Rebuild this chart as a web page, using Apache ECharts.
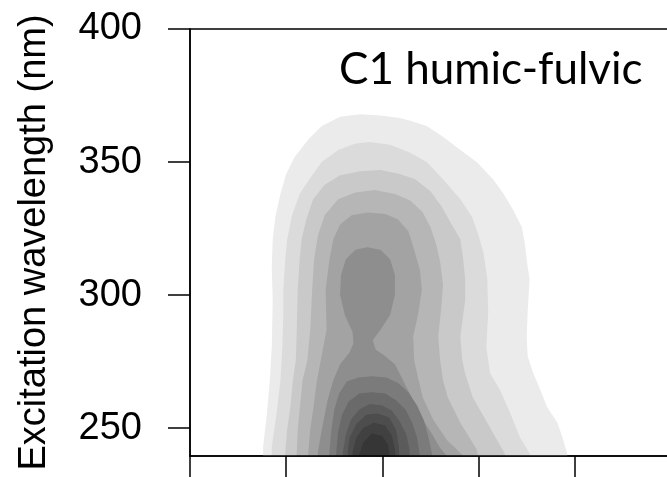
<!DOCTYPE html>
<html>
<head>
<meta charset="utf-8">
<script src="https://cdn.jsdelivr.net/npm/echarts@6/dist/echarts.min.js"></script>
<style>
html,body{margin:0;padding:0;background:#fff;}
#chart{width:667px;height:477px;}
</style>
</head>
<body>
<div id="chart"></div>
<script>
// Axis ranges (nm)
const emissionRange = [350, 600];
const excitationRange = [239.5, 400];
const excitationTicks = [250, 300, 350, 400];
const yTitle = 'Excitation wavelength (nm)';
const componentLabel = 'C1 humic-fulvic';

// Contour level fill colours, lightest (lowest intensity) to darkest
const levelColors = ['#ebebeb','#dbdbdb','#c9c9c9','#b6b6b6','#a3a3a3','#8e8e8e',
                     '#7b7b7b','#6a6a6a','#5b5b5b','#4d4d4d','#414141','#363636'];

// Contour boundaries: [emission nm, excitation nm]
const level1 = [[388,234],[388,243],[390,255.5],[391.5,268],[392.5,280.5],[393,298],[392.5,310.5],[393,321],[394.5,330],[397,338],[400,345.5],[404.5,352],[411.5,358.5],[418.5,363.5],[428,367],[438.5,368],[449,367.5],[459,366.5],[464.5,365.5],[473,363.5],[481.5,359.5],[490.5,354.5],[499,350],[507.5,343.5],[512.5,338.5],[518,332],[522.5,325.5],[524,319.5],[525.5,310.5],[526.5,306],[525.5,293.5],[525,284.5],[525.5,277],[528.5,270.5],[532,264.5],[535.5,258],[541,252],[544,245.5],[546,240.5],[546.5,234]];
const level2 = [[392.5,234],[392.5,243],[395,255.5],[397,268],[398,280.5],[398.5,293.5],[398.5,302],[399.5,313.5],[400.5,321],[403,330],[407,338],[412.5,344],[418.5,350],[427,354.5],[436,357],[443.5,357.5],[454,356.5],[464.5,353.5],[473,350],[481.5,343.5],[490.5,336],[496.5,329.5],[499.5,323.5],[502.5,316],[504.5,306],[505,293.5],[504,280.5],[506,270.5],[511,264.5],[516.5,255.5],[521.5,246.5],[526.5,240.5],[528,234]];
const level3 = [[399,234],[399.5,241],[400.5,249.5],[402,257],[403.5,268],[405,275.5],[405.5,287],[406,302],[407,313.5],[408,321],[410.5,328.5],[414,336],[420,341.5],[428,345],[438.5,346.5],[449,347],[459,345.5],[467,343.5],[475,339],[481,333],[486,326.5],[490.5,321],[492,313.5],[493,306],[493,298],[490.5,284.5],[491.5,275.5],[493,270.5],[497,261.5],[504.5,252],[513.5,240.5],[515.5,234]];
const level4 = [[405,234],[405.5,241],[406,249.5],[407,257],[408.5,268],[411,275.5],[412.5,287],[413.5,302],[414.5,313.5],[416.5,322.5],[420,330],[427,336],[436,338.5],[446,339.5],[456.5,338],[464.5,335.5],[471,331],[475,325.5],[478,319],[480,312.5],[481.5,304],[480.5,294.5],[479,284.5],[480,275.5],[481.5,268],[484,261.5],[490.5,252],[499,242],[501.5,234]];
const level5 = [[411,234],[411.5,241],[412.5,249.5],[414,257],[416,268],[418.5,277.5],[421,287],[420.5,302],[422.5,313.5],[424.5,321],[428,326.5],[434,330],[442.5,331],[451.5,330.5],[458,328.5],[463.5,324],[466.5,317],[469.5,309.5],[470.5,302],[468.5,292.5],[466,284.5],[466.5,275.5],[468.5,269],[471,261.5],[476.5,253],[483.5,245.5],[491.5,240],[493,234]];
const level6 = [[416.5,234],[416.5,241],[418.5,249.5],[421.5,260.5],[424.5,268],[428,274],[433,278.5],[435,282],[434.5,286],[430.5,292.5],[428,300],[428.5,307.5],[431,313.5],[436,317],[442,318],[449,317],[454,313.5],[456.5,307.5],[456.5,300],[454,292.5],[449,287],[445,283],[446.5,279.5],[451.5,277],[456.5,274],[460,269],[464.5,262.5],[469.5,255],[476,247.5],[480,242.5],[483.5,239.5],[485,234]];
const level7 = [[421.5,234],[422.5,241],[423.5,249.5],[425,257],[427.5,263],[431.5,267.5],[437.5,269],[444.5,269.5],[452,269],[458,267],[463.5,263.5],[468,258.5],[471.5,253],[474,246.5],[476,239.5],[476.5,234]];
const level8 = [[425.5,234],[426,241],[427,248.5],[429,255],[432.5,260],[438,263],[444.5,263.5],[451.5,263],[457,260.5],[462,257],[465.5,252],[468,246.5],[469.5,239.5],[470,234]];
const level9 = [[429,234],[429.5,241],[431,247.5],[433.5,253],[438,257],[443.5,259],[450,258.5],[455,256.5],[459,252.5],[462.5,247.5],[464,242],[464.5,234]];
const level10 = [[432,234],[432,241],[433,246.5],[436.5,251.5],[441.5,255],[447.5,255.5],[453.5,254],[457,249.5],[458.5,243.5],[459,234]];
const level11 = [[434.5,234],[434.5,241],[436.5,246.5],[440,250],[445.5,252],[451.5,251],[455,247],[456.5,242],[457,234]];
const level12 = [[437.5,234],[438,240],[440,244.5],[444.5,248],[450,247],[453,243.5],[454.5,234]];

const contours = [level1, level2, level3, level4, level5, level6,
                  level7, level8, level9, level10, level11, level12];

const chart = echarts.init(document.getElementById('chart'), null, {renderer: 'canvas'});

const axisFont = 'Liberation Sans, Arial, Helvetica, sans-serif';

chart.setOption({
  backgroundColor: '#ffffff',
  animation: false,
  grid: {
    left: 190, top: 29, width: 481, bottom: 21,
    outerBoundsMode: 'none',
    containLabel: false,
    show: true, borderColor: '#000', borderWidth: 1.5, backgroundColor: 'transparent'
  },
  xAxis: {
    type: 'value',
    min: emissionRange[0], max: emissionRange[1], interval: 50,
    z: 10,
    axisLine: {show: true, onZero: false, lineStyle: {color: '#000', width: 1.5}},
    axisTick: {show: true, inside: false, length: 24, lineStyle: {color: '#000', width: 1.5}},
    axisLabel: {show: false},
    splitLine: {show: false}
  },
  yAxis: {
    type: 'value',
    min: excitationRange[0], max: excitationRange[1],
    z: 10,
    name: yTitle,
    nameLocation: 'middle',
    nameRotate: 90,
    nameGap: 136,
    nameTextStyle: {fontFamily: axisFont, fontSize: 38, color: '#000'},
    axisLine: {show: true, onZero: false, lineStyle: {color: '#000', width: 1.5}},
    axisTick: {show: true, inside: false, length: 22, customValues: excitationTicks, lineStyle: {color: '#000', width: 1.5}},
    axisLabel: {show: true, customValues: excitationTicks, margin: 48, fontFamily: axisFont, fontSize: 38, color: '#000',
                verticalAlign: 'middle', padding: [6, 0, 0, 0]},
    splitLine: {show: false}
  },
  graphic: [{
    type: 'text',
    left: 339, top: 48,
    z: 20,
    style: {text: componentLabel, font: '44px Lato, "Open Sans", sans-serif', fill: '#000'}
  }],
  series: [{
    type: 'custom',
    clip: true,
    coordinateSystem: 'cartesian2d',
    data: contours.map((c, i) => [i]),
    encode: {x: -1, y: -1},
    renderItem: function (params, api) {
      const i = api.value(0);
      const pts = contours[i].map(p => api.coord(p));
      const cs = params.coordSys;
      return {
        type: 'group',
        clipPath: {type: 'rect', shape: {x: cs.x, y: cs.y, width: cs.width, height: cs.height}},
        children: [{
          type: 'polygon',
          shape: {points: pts},
          style: {fill: levelColors[i], stroke: null}
        }]
      };
    }
  }]
});
</script>
</body>
</html>
